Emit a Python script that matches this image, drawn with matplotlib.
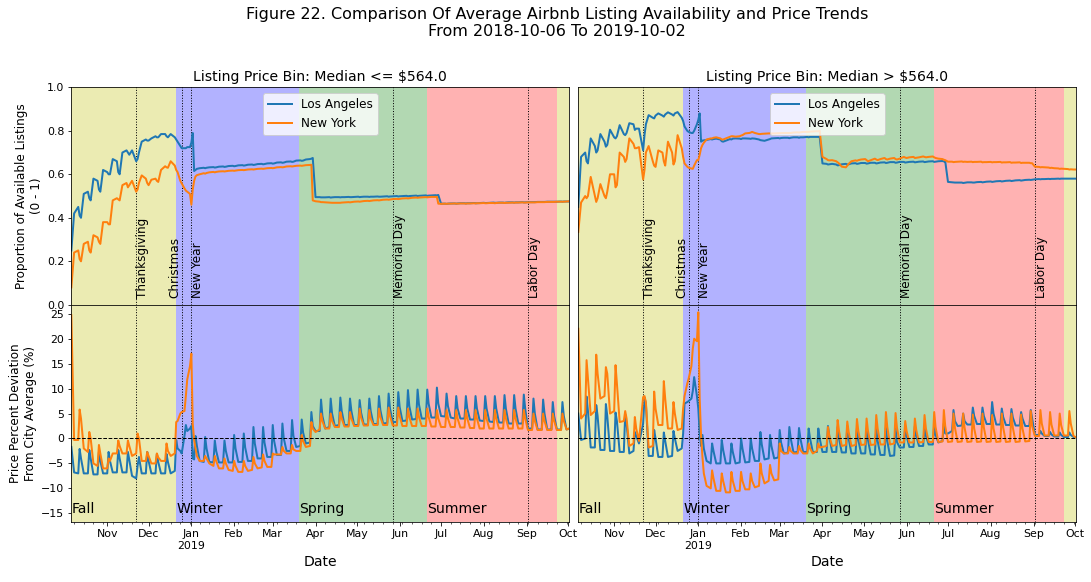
import pandas as pd
import matplotlib
matplotlib.use("Agg")
import matplotlib.pyplot as plt
import matplotlib.dates as mdates
from matplotlib.ticker import FuncFormatter

# sample days: start, then Mon/Thu/Fri/Sat of every week (+ holidays), then end
mondays = pd.date_range("2018-10-08", "2019-09-23", freq="7D")
extra_days = {pd.Timestamp("2018-12-24"): [0, 1, 3, 4, 5],
              pd.Timestamp("2018-12-31"): [0, 1, 2, 3, 4, 5]}
dates = [pd.Timestamp("2018-10-06")]
for m in mondays:
    for d in extra_days.get(m, [0, 3, 4, 5]):
        dates.append(m + pd.Timedelta(days=d))
dates += [pd.Timestamp("2019-09-30"), pd.Timestamp("2019-10-02")]

cities = ["Los Angeles", "New York"]
bin_titles = ["Listing Price Bin: Median <= $564.0", "Listing Price Bin: Median > $564.0"]

# availability, price bin <= median (one row per week)
la_avail_lo = [
    [0.25],
    [0.42, 0.45, 0.41, 0.40], [0.51, 0.52, 0.49, 0.48], [0.58, 0.57, 0.53, 0.52],  # Oct 8
    [0.62, 0.61, 0.60, 0.60], [0.67, 0.66, 0.61, 0.60], [0.70, 0.71, 0.70, 0.69],  # Oct 29
    [0.71, 0.66, 0.67, 0.70], [0.75, 0.76, 0.755, 0.755], [0.765, 0.775, 0.77, 0.77],  # Nov 19
    [0.785, 0.785, 0.775, 0.77], [0.785, 0.77, 0.76, 0.75], [0.73, 0.72, 0.72, 0.72, 0.725],  # Dec 10
    [0.725, 0.745, 0.79, 0.615, 0.62, 0.625], [0.628, 0.630, 0.628, 0.630], [0.632, 0.633, 0.631, 0.632],  # Dec 31
    [0.635, 0.636, 0.634, 0.635], [0.638, 0.639, 0.637, 0.638], [0.641, 0.642, 0.640, 0.641],  # Jan 21
    [0.644, 0.645, 0.643, 0.644], [0.647, 0.648, 0.646, 0.647], [0.650, 0.651, 0.649, 0.650],  # Feb 11
    [0.654, 0.655, 0.653, 0.654], [0.658, 0.659, 0.657, 0.658], [0.663, 0.664, 0.662, 0.663],  # Mar 4
    [0.668, 0.670, 0.672, 0.675], [0.495, 0.495, 0.494, 0.494], [0.494, 0.495, 0.493, 0.494],  # Mar 25
    [0.495, 0.495, 0.494, 0.495], [0.495, 0.496, 0.495, 0.495], [0.496, 0.497, 0.495, 0.496],  # Apr 15
    [0.497, 0.497, 0.496, 0.497], [0.497, 0.498, 0.497, 0.497], [0.498, 0.499, 0.497, 0.498],  # May 6
    [0.499, 0.500, 0.498, 0.499], [0.500, 0.501, 0.499, 0.500], [0.501, 0.502, 0.500, 0.501],  # May 27
    [0.502, 0.503, 0.501, 0.502], [0.503, 0.504, 0.503, 0.505], [0.465, 0.465, 0.464, 0.465],  # Jun 17
    [0.466, 0.466, 0.465, 0.466], [0.467, 0.467, 0.466, 0.467], [0.467, 0.468, 0.467, 0.467],  # Jul 8
    [0.468, 0.469, 0.468, 0.468], [0.469, 0.470, 0.469, 0.469], [0.470, 0.470, 0.469, 0.470],  # Jul 29
    [0.471, 0.471, 0.470, 0.471], [0.471, 0.472, 0.471, 0.471], [0.472, 0.472, 0.472, 0.472],  # Aug 19
    [0.473, 0.473, 0.473, 0.473], [0.474, 0.474, 0.474, 0.474], [0.474, 0.475, 0.474, 0.475],  # Sep 9
    [0.475, 0.475],
]
ny_avail_lo = [
    [0.08],
    [0.24, 0.25, 0.21, 0.20], [0.28, 0.29, 0.25, 0.24], [0.32, 0.31, 0.29, 0.28],
    [0.38, 0.38, 0.37, 0.37], [0.48, 0.49, 0.485, 0.48], [0.55, 0.56, 0.54, 0.55],
    [0.57, 0.52, 0.53, 0.56], [0.595, 0.58, 0.56, 0.55], [0.575, 0.58, 0.57, 0.565],
    [0.62, 0.637, 0.632, 0.63], [0.66, 0.64, 0.62, 0.61], [0.57, 0.558, 0.535, 0.525, 0.52],
    [0.51, 0.46, 0.53, 0.57, 0.59, 0.596], [0.600, 0.605, 0.603, 0.606], [0.609, 0.611, 0.609, 0.611],
    [0.613, 0.614, 0.613, 0.614], [0.616, 0.617, 0.616, 0.617], [0.619, 0.620, 0.619, 0.620],
    [0.622, 0.623, 0.622, 0.623], [0.625, 0.626, 0.625, 0.626], [0.628, 0.629, 0.628, 0.629],
    [0.632, 0.633, 0.632, 0.633], [0.636, 0.637, 0.636, 0.637], [0.639, 0.640, 0.639, 0.640],
    [0.642, 0.643, 0.644, 0.480], [0.476, 0.474, 0.472, 0.472], [0.471, 0.470, 0.469, 0.469],
    [0.469, 0.469, 0.469, 0.470], [0.471, 0.472, 0.471, 0.472], [0.474, 0.475, 0.474, 0.475],
    [0.477, 0.478, 0.477, 0.478], [0.480, 0.481, 0.480, 0.481], [0.483, 0.484, 0.483, 0.484],
    [0.486, 0.487, 0.486, 0.487], [0.489, 0.490, 0.489, 0.490], [0.492, 0.493, 0.492, 0.493],
    [0.494, 0.495, 0.494, 0.495], [0.496, 0.496, 0.496, 0.465], [0.464, 0.465, 0.464, 0.465],
    [0.465, 0.466, 0.465, 0.465], [0.466, 0.466, 0.465, 0.466], [0.466, 0.467, 0.466, 0.467],
    [0.467, 0.468, 0.467, 0.467], [0.468, 0.468, 0.467, 0.468], [0.469, 0.469, 0.468, 0.469],
    [0.469, 0.470, 0.469, 0.470], [0.470, 0.471, 0.470, 0.470], [0.471, 0.471, 0.471, 0.471],
    [0.472, 0.472, 0.472, 0.472], [0.473, 0.473, 0.473, 0.473], [0.474, 0.474, 0.474, 0.474],
    [0.475, 0.476],
]

# availability, price bin > median
la_avail_hi = [
    [0.45],
    [0.68, 0.70, 0.66, 0.65], [0.765, 0.73, 0.70, 0.71], [0.785, 0.75, 0.727, 0.735],
    [0.805, 0.77, 0.765, 0.775], [0.826, 0.785, 0.78, 0.79], [0.835, 0.83, 0.804, 0.81],
    [0.81, 0.71, 0.78, 0.83], [0.872, 0.86, 0.857, 0.87], [0.88, 0.87, 0.865, 0.875],
    [0.885, 0.875, 0.87, 0.88], [0.886, 0.86, 0.845, 0.82], [0.80, 0.795, 0.79, 0.79, 0.80],
    [0.83, 0.85, 0.88, 0.75, 0.755, 0.756], [0.758, 0.762, 0.760, 0.762], [0.764, 0.760, 0.752, 0.750],
    [0.755, 0.762, 0.760, 0.764], [0.765, 0.764, 0.762, 0.765], [0.765, 0.764, 0.763, 0.765],
    [0.764, 0.760, 0.757, 0.756], [0.754, 0.760, 0.762, 0.765], [0.766, 0.767, 0.765, 0.767],
    [0.768, 0.768, 0.766, 0.768], [0.770, 0.770, 0.768, 0.770], [0.770, 0.772, 0.770, 0.772],
    [0.772, 0.772, 0.772, 0.772], [0.650, 0.648, 0.645, 0.646], [0.648, 0.645, 0.641, 0.642],
    [0.646, 0.648, 0.645, 0.646], [0.650, 0.651, 0.648, 0.649], [0.652, 0.652, 0.649, 0.650],
    [0.653, 0.653, 0.650, 0.651], [0.654, 0.655, 0.652, 0.653], [0.656, 0.656, 0.653, 0.654],
    [0.657, 0.657, 0.654, 0.655], [0.657, 0.658, 0.655, 0.656], [0.658, 0.659, 0.656, 0.657],
    [0.659, 0.660, 0.657, 0.658], [0.660, 0.661, 0.659, 0.660], [0.565, 0.563, 0.562, 0.562],
    [0.562, 0.562, 0.560, 0.561], [0.563, 0.563, 0.562, 0.562], [0.564, 0.565, 0.563, 0.564],
    [0.566, 0.567, 0.565, 0.566], [0.568, 0.569, 0.567, 0.568], [0.570, 0.571, 0.569, 0.570],
    [0.572, 0.573, 0.571, 0.572], [0.574, 0.575, 0.574, 0.575], [0.577, 0.578, 0.577, 0.578],
    [0.578, 0.579, 0.578, 0.579], [0.579, 0.580, 0.579, 0.580], [0.580, 0.580, 0.580, 0.580],
    [0.580, 0.580],
]
ny_avail_hi = [
    [0.335],
    [0.47, 0.50, 0.49, 0.50], [0.588, 0.50, 0.473, 0.49], [0.555, 0.50, 0.49, 0.52],
    [0.60, 0.60, 0.54, 0.55], [0.70, 0.68, 0.657, 0.67], [0.765, 0.74, 0.72, 0.72],
    [0.725, 0.576, 0.62, 0.70], [0.73, 0.66, 0.64, 0.634], [0.71, 0.70, 0.66, 0.64],
    [0.75, 0.70, 0.645, 0.66], [0.78, 0.72, 0.68, 0.65], [0.635, 0.63, 0.627, 0.625, 0.64],
    [0.665, 0.665, 0.69, 0.72, 0.735, 0.745], [0.76, 0.765, 0.765, 0.768], [0.77, 0.765, 0.76, 0.76],
    [0.765, 0.772, 0.775, 0.775], [0.773, 0.775, 0.778, 0.78], [0.788, 0.79, 0.792, 0.795],
    [0.79, 0.785, 0.785, 0.786], [0.787, 0.788, 0.788, 0.788], [0.788, 0.789, 0.789, 0.79],
    [0.79, 0.79, 0.79, 0.79], [0.792, 0.793, 0.792, 0.793], [0.795, 0.795, 0.795, 0.796],
    [0.797, 0.798, 0.798, 0.80], [0.68, 0.67, 0.665, 0.664], [0.665, 0.66, 0.655, 0.65],
    [0.635, 0.632, 0.64, 0.648], [0.66, 0.664, 0.662, 0.665], [0.668, 0.67, 0.665, 0.66],
    [0.665, 0.672, 0.668, 0.665], [0.67, 0.675, 0.67, 0.668], [0.672, 0.675, 0.67, 0.668],
    [0.672, 0.68, 0.677, 0.675], [0.678, 0.68, 0.675, 0.676], [0.678, 0.682, 0.68, 0.678],
    [0.68, 0.682, 0.678, 0.675], [0.672, 0.67, 0.667, 0.665], [0.658, 0.658, 0.656, 0.657],
    [0.658, 0.659, 0.657, 0.658], [0.657, 0.658, 0.656, 0.657], [0.657, 0.658, 0.655, 0.656],
    [0.656, 0.657, 0.655, 0.656], [0.656, 0.657, 0.654, 0.655], [0.655, 0.656, 0.653, 0.654],
    [0.654, 0.655, 0.652, 0.653], [0.653, 0.653, 0.651, 0.651], [0.635, 0.634, 0.632, 0.633],
    [0.632, 0.631, 0.629, 0.630], [0.628, 0.627, 0.625, 0.626], [0.625, 0.624, 0.622, 0.623],
    [0.622, 0.622],
]

# price % deviation from city average, price bin <= median
la_price_lo = [
    [-1.7],
    [-6.8, -7.0, -2.1, -4.0], [-7.0, -7.0, -2.3, -4.0], [-7.2, -7.2, -2.7, -4.5],
    [-7.0, -7.0, -2.7, -4.5], [-6.8, -6.8, -2.3, -4.0], [-6.8, -6.8, -2.7, -4.3],
    [-7.5, -8.0, -5.5, -3.7], [-7.0, -7.0, -2.7, -4.5], [-7.0, -7.0, -3.1, -4.7],
    [-7.0, -7.0, -3.1, -4.7], [-7.0, -6.5, -0.3, -2.0], [-2.5, -3.0, 0.5, 2.7, 1.5],
    [2.0, 2.5, -4.0, -4.2, 0.5, -1.5], [-4.5, -4.7, 0.3, -2.0], [-4.7, -4.8, -0.4, -2.5],
    [-4.8, -4.8, -0.4, -2.5], [-4.8, -4.8, 0.7, -2.0], [-4.7, -4.7, 1.0, -1.8],
    [-4.5, -4.5, 2.3, -1.0], [-4.0, -4.0, 2.3, -0.8], [-3.7, -3.7, 2.7, -0.5],
    [-3.3, -3.3, 3.0, 0.0], [-2.5, -2.5, 3.7, 0.5], [-1.7, -1.5, 3.8, 1.2],
    [-1.0, -0.8, 5.3, 2.5], [1.5, 1.5, 7.8, 4.5], [2.0, 2.3, 8.0, 5.0],
    [2.5, 2.7, 8.2, 5.5], [2.7, 2.7, 8.0, 5.5], [2.7, 2.7, 7.7, 5.2],
    [2.8, 2.8, 8.0, 5.5], [2.9, 2.9, 8.5, 5.7], [3.0, 3.1, 9.0, 6.0],
    [3.3, 3.3, 9.3, 6.3], [3.5, 3.6, 9.7, 6.5], [3.8, 3.9, 9.8, 6.8],
    [4.0, 4.0, 9.8, 7.0], [4.2, 4.2, 10.2, 7.0], [4.5, 4.4, 9.0, 6.5],
    [4.2, 4.0, 8.5, 6.0], [4.0, 4.0, 8.5, 6.0], [3.8, 3.8, 8.5, 6.0],
    [3.6, 3.5, 8.5, 6.0], [3.4, 3.3, 8.5, 6.0], [3.2, 3.2, 8.7, 6.0],
    [3.0, 3.0, 8.7, 6.0], [3.0, 3.0, 8.8, 6.0], [2.0, 2.0, 8.0, 5.0],
    [1.8, 1.8, 7.8, 5.0], [1.8, 1.8, 7.3, 4.5], [1.8, 1.8, 7.3, 4.5],
    [1.8, 2.0],
]
ny_price_lo = [
    [24.7],
    [-0.3, -0.3, 5.8, 4.0], [-2.0, -2.7, 1.3, 0.0], [-5.0, -5.5, -1.3, -3.0],
    [-6.0, -6.0, -4.0, -4.5], [-3.0, -3.0, -0.4, -1.5], [-3.0, -3.0, -0.4, -1.5],
    [-3.5, -3.0, 1.0, 0.0], [-4.5, -4.5, -2.7, -3.5], [-5.0, -5.0, -3.0, -3.8],
    [-4.5, -4.5, -1.0, -2.5], [-3.5, -3.0, 3.3, 3.5], [5.0, 5.3, 5.5, 8.5, 11.8],
    [14.5, 17.0, 3.0, -0.3, -2.0, -3.5], [-4.5, -4.5, -3.5, -4.0], [-5.0, -5.5, -3.5, -4.5],
    [-6.0, -6.0, -4.0, -5.0], [-6.3, -6.5, -4.5, -5.5], [-6.7, -6.7, -4.5, -5.5],
    [-6.5, -6.3, -3.7, -5.0], [-6.0, -5.8, -3.2, -4.5], [-5.7, -5.7, -3.0, -3.2],
    [-3.2, -3.2, -1.7, -2.5], [-3.0, -3.0, -1.3, -2.2], [-2.5, -2.5, 0.7, -0.5],
    [-1.7, -1.5, 3.3, 2.0], [1.3, 1.8, 5.0, 3.5], [2.0, 2.0, 5.0, 3.5],
    [2.3, 2.3, 5.3, 4.0], [2.4, 2.4, 5.3, 4.0], [2.5, 2.5, 6.0, 4.2],
    [2.6, 2.6, 5.7, 4.0], [2.7, 2.7, 6.0, 4.3], [2.7, 2.7, 6.2, 4.5],
    [2.6, 2.6, 6.2, 4.5], [2.5, 2.5, 6.0, 4.3], [2.5, 2.5, 6.0, 4.3],
    [2.5, 2.5, 6.0, 4.3], [2.4, 2.4, 5.7, 4.0], [2.3, 2.3, 5.7, 4.0],
    [2.3, 2.3, 5.7, 4.0], [2.2, 2.2, 5.7, 4.0], [2.1, 2.1, 5.7, 4.0],
    [2.0, 2.0, 5.7, 4.0], [2.0, 2.0, 5.7, 4.0], [2.0, 2.0, 5.7, 4.0],
    [2.0, 2.0, 5.7, 4.0], [2.0, 2.0, 5.7, 4.0], [1.7, 1.7, 5.0, 3.5],
    [1.7, 1.7, 5.0, 3.5], [1.7, 1.7, 5.0, 3.5], [1.7, 1.7, 5.0, 3.5],
    [1.8, 2.0],
]

# price % deviation, price bin > median
la_price_hi = [
    [5.0],
    [-0.3, 0.0, 8.4, 5.5], [-1.8, -1.8, 6.7, 4.5], [-2.3, -2.3, 6.9, 4.5],
    [-2.5, -2.5, 5.2, 3.5], [-2.7, -2.7, 4.8, 3.0], [-3.0, -2.5, 1.3, 0.5],
    [-1.0, 3.0, 8.2, 7.0], [-3.5, -3.5, 1.7, 0.0], [-3.7, -3.7, 1.2, -0.5],
    [-3.7, -3.5, 1.5, 0.0], [-2.5, -2.0, 1.0, 7.0], [7.3, 7.5, 8.0, 9.5, 12.3],
    [8.5, 6.0, 1.0, -1.5, 0.7, -2.0], [-4.5, -5.0, -1.0, -2.5], [-5.0, -5.0, -0.3, -2.3],
    [-5.0, -5.0, -1.0, -2.7], [-5.0, -4.8, 0.0, -2.0], [-4.8, -4.7, 0.0, -2.0],
    [-4.5, -4.5, 1.3, -1.2], [-4.2, -4.0, 0.7, -1.5], [-4.0, -3.8, 1.7, -0.8],
    [-3.0, -2.8, 2.3, 0.0], [-2.8, -2.7, 2.1, 0.0], [-2.7, -2.7, 2.0, 0.0],
    [-2.7, -2.7, 2.0, 0.0], [-2.7, -2.7, 2.5, 0.3], [-2.7, -2.7, 2.3, 0.0],
    [-2.8, -2.8, 2.5, 0.0], [-3.0, -3.0, 2.0, -0.3], [-3.0, -3.0, 2.0, -0.3],
    [-3.2, -3.2, 2.0, -0.5], [-3.3, -3.3, 2.2, -0.5], [-3.5, -3.4, 2.0, -0.7],
    [-1.8, -1.8, 2.5, 0.5], [-1.7, -1.7, 2.5, 0.5], [-1.5, -1.5, 2.3, 0.5],
    [-1.2, -1.2, 2.5, 0.7], [-0.8, -0.5, 3.0, 1.0], [1.0, 1.5, 5.7, 3.5],
    [2.5, 2.6, 5.0, 3.5], [2.8, 2.8, 6.2, 4.5], [2.9, 2.9, 6.2, 4.5],
    [2.9, 2.9, 7.3, 5.0], [2.8, 2.8, 6.0, 4.3], [2.7, 2.7, 5.9, 4.2],
    [2.6, 2.6, 5.3, 4.0], [2.5, 2.5, 5.7, 4.0], [0.7, 0.7, 1.5, 1.0],
    [0.5, 0.5, 1.3, 0.8], [0.4, 0.4, 1.2, 0.7], [0.3, 0.3, 1.2, 0.7],
    [0.3, 0.2],
]
ny_price_hi = [
    [22.0],
    [4.0, 5.0, 15.7, 12.0], [4.7, 5.5, 16.8, 13.0], [8.0, 8.5, 14.3, 13.0],
    [5.0, 5.5, 14.7, 11.0], [3.3, 3.5, 5.5, 4.0], [-1.5, -1.0, 4.3, 2.0],
    [-0.5, 8.3, 8.5, 7.3], [-1.8, -1.5, 9.4, 6.0], [2.7, 2.7, 11.5, 8.0],
    [2.0, 2.0, 7.3, 5.0], [1.7, 2.0, 6.0, 8.5], [11.0, 12.0, 14.5, 18.0, 20.0],
    [19.5, 25.3, 8.0, 0.5, -3.7, -7.0], [-9.5, -10.0, -6.4, -8.0], [-10.5, -10.5, -7.0, -8.5],
    [-10.8, -10.8, -6.7, -8.5], [-10.5, -10.5, -6.7, -8.5], [-10.2, -10.2, -7.0, -8.5],
    [-9.8, -9.5, -5.0, -7.0], [-9.0, -8.5, -5.3, -7.0], [-8.4, -8.2, -1.0, -2.5],
    [-3.0, -3.0, -1.7, -2.5], [-3.0, -3.0, -1.5, -2.3], [-3.0, -3.0, -1.0, -2.0],
    [-3.0, -2.5, -1.0, -1.8], [-1.7, -1.5, 2.3, 0.5], [-1.5, -1.3, 3.7, 1.5],
    [-1.5, -1.3, 3.4, 1.3], [-1.5, -1.3, 3.9, 1.5], [-1.3, -1.2, 4.0, 1.5],
    [-1.3, -1.2, 4.7, 2.0], [-1.2, -1.2, 5.3, 2.3], [-1.2, -1.0, 5.1, 2.2],
    [-0.8, -0.8, 3.5, 1.5], [-0.8, -0.8, 4.0, 1.7], [-0.8, -0.7, 4.7, 2.0],
    [-0.7, -0.7, 5.3, 2.3], [-0.7, -0.6, 5.7, 2.5], [-0.7, -0.6, 5.0, 2.2],
    [-0.7, -0.6, 5.0, 2.2], [-0.7, -0.6, 4.8, 2.0], [-0.7, -0.6, 5.0, 2.2],
    [-0.7, -0.6, 4.7, 2.0], [-0.7, -0.6, 5.0, 2.2], [-0.7, -0.6, 5.0, 2.2],
    [-0.7, -0.6, 4.8, 2.0], [-0.6, -0.5, 5.5, 2.5], [0.5, 0.5, 5.7, 3.0],
    [0.6, 0.6, 5.3, 2.8], [0.6, 0.6, 5.0, 2.7], [0.6, 0.6, 5.5, 3.0],
    [0.5, 0.2],
]

seasons = ["Fall", "Winter", "Spring", "Summer", None]
season_starts = ["2018-10-06", "2018-12-21", "2019-03-20", "2019-06-21", "2019-09-23"]
season_ends = ["2018-12-21", "2019-03-20", "2019-06-21", "2019-09-23", "2019-10-02"]
season_colors = ["y", "b", "g", "r", "y"]

holidays = ["Thanksgiving", "Christmas", "New Year", "Memorial Day", "Labor Day"]
holiday_dates = ["2018-11-22", "2018-12-25", "2019-01-01", "2019-05-27", "2019-09-02"]
holiday_side = ["left", "right", "left", "left", "left"]


def flat(rows):
    return [v for r in rows for v in r]


avail = [[la_avail_lo, ny_avail_lo], [la_avail_hi, ny_avail_hi]]
price = [[la_price_lo, ny_price_lo], [la_price_hi, ny_price_hi]]
colors = ["#1f77b4", "#ff7f0e"]

fig, axes = plt.subplots(2, 2, sharex=True, sharey="row", figsize=(1091 / 72, 582 / 72), dpi=72)
fig.subplots_adjust(left=0.0654, right=0.9865, top=0.85, bottom=0.1026, hspace=0, wspace=0.018)

for col in range(2):
    top, bot = axes[0, col], axes[1, col]
    for ax in (top, bot):
        for s0, s1, c in zip(season_starts, season_ends, season_colors):
            ax.axvspan(pd.Timestamp(s0), pd.Timestamp(s1), color=c, alpha=0.3, lw=0)
        for h in holiday_dates:
            ax.axvline(pd.Timestamp(h), color="k", linestyle=":", linewidth=1)

    for series, name, c in zip(avail[col], cities, colors):
        vals = flat(series)
        assert len(vals) == len(dates), (name, len(vals), len(dates))
        top.plot(dates, vals, color=c, lw=2, label=name)
    for series, name, c in zip(price[col], cities, colors):
        vals = flat(series)
        assert len(vals) == len(dates), (name, len(vals), len(dates))
        bot.plot(dates, vals, color=c, lw=2, label=name)

    bot.axhline(0, color="k", linestyle="--", linewidth=1)
    top.set_title(bin_titles[col], fontsize=14)
    top.legend(loc="upper center", fontsize=12)
    for h, hd, side in zip(holidays, holiday_dates, holiday_side):
        top.text(pd.Timestamp(hd), 0.03, h, rotation=90, ha=side, va="bottom", fontsize=12)
    for s, s0 in zip(seasons, season_starts):
        if s:
            bot.text(pd.Timestamp(s0), -15, s, fontsize=14, va="baseline")
    bot.set_xlabel("Date", fontsize=14)
    top.tick_params(axis="x", which="both", bottom=False)
    if col == 1:
        top.tick_params(axis="y", left=False)
        bot.tick_params(axis="y", left=False)

axes[0, 0].set_ylim(0, 1)
axes[1, 0].set_ylim(-16.8, 26.8)
axes[0, 0].set_ylabel("Proportion of Available Listings\n(0 - 1)", fontsize=12)
axes[1, 0].set_ylabel("Price Percent Deviation\nFrom City Average (%)", fontsize=12)


def month_fmt(v, pos):
    d = mdates.num2date(v)
    return d.strftime("%b") + ("\n%d" % d.year if d.month == 1 else "")


bx = axes[1, 0].xaxis
bx.set_major_locator(mdates.MonthLocator())
bx.set_minor_locator(mdates.WeekdayLocator(byweekday=mdates.MO))
bx.set_major_formatter(FuncFormatter(month_fmt))
axes[1, 0].set_xlim(dates[0], dates[-1])
for ax in axes.flat:
    ax.tick_params(labelsize=11)

fig.suptitle("Figure 22. Comparison Of Average Airbnb Listing Availability and Price Trends\n"
             "From 2018-10-06 To 2019-10-02", fontsize=16, x=0.5105, y=0.988)

fig.savefig("out.png", dpi=72)
